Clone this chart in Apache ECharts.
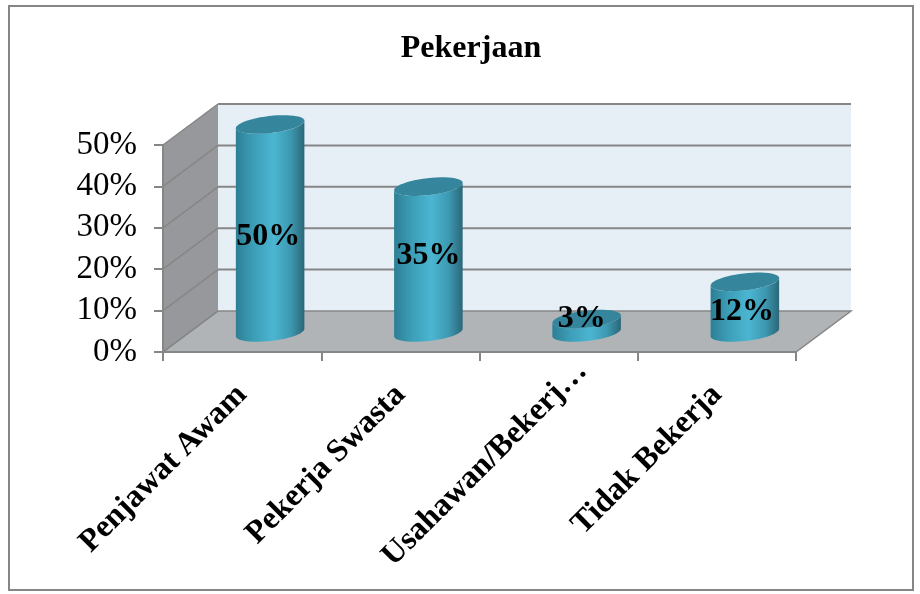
<!DOCTYPE html>
<html>
<head>
<meta charset="utf-8">
<style>html,body{margin:0;padding:0;background:#fff}#c{width:920px;height:594px}</style>
<script src="https://cdn.jsdelivr.net/npm/echarts@6/dist/echarts.min.js"></script>
</head>
<body>
<div id="c"></div>
<script>
const titleText = 'Pekerjaan';
const categories = ['Penjawat Awam', 'Pekerja Swasta', 'Usahawan/Bekerj…', 'Tidak Bekerja'];
const values = [50, 35, 3, 12];
const gridTicks = [0, 10, 20, 30, 40, 50];

const DX = 55, DY = -41, LINE = '#868686', FONT = '"Liberation Serif","Times New Roman",serif';
const labelNudge = [[-2, 8], [0, -4], [-5, -7], [-3, 5]];

function ellipsePts(cx, cy, rx, ry, phi, a0, a1, n) {
  const pts = [];
  for (let i = 0; i <= n; i++) {
    const a = a0 + (a1 - a0) * i / n;
    const ex = rx * Math.cos(a), ey = ry * Math.sin(a);
    pts.push([cx + ex * Math.cos(phi) - ey * Math.sin(phi), cy + ex * Math.sin(phi) + ey * Math.cos(phi)]);
  }
  return pts;
}

function renderWalls(params, api) {
  const o = api.coord([0, 0]);
  const band = api.size([1, 0])[0];
  const L = o[0] - band / 2, R = L + band * categories.length;
  const B = o[1], T = api.coord([0, 50])[1];
  const ch = [
    { type: 'polygon', shape: { points: [[L + DX, T + DY], [R + DX, T + DY], [R + DX, B + DY], [L + DX, B + DY]] }, style: { fill: '#e7eff6' } },
    { type: 'polygon', shape: { points: [[L, T], [L + DX, T + DY], [L + DX, B + DY], [L, B]] }, style: { fill: '#97989b' } },
    { type: 'polygon', shape: { points: [[L, B], [L + DX, B + DY], [R + DX, B + DY], [R, B]] }, style: { fill: '#b1b4b6', stroke: LINE, lineWidth: 1.5 } }
  ];
  gridTicks.forEach(t => {
    const y = api.coord([0, t])[1];
    if (t > 0) ch.push({ type: 'line', shape: { x1: L + DX, y1: y + DY, x2: R + DX, y2: y + DY }, style: { stroke: LINE, lineWidth: 2 } });
    ch.push({ type: 'line', shape: { x1: L, y1: y, x2: L + DX, y2: y + DY }, style: { stroke: LINE, lineWidth: 1.5 } });
  });
  return { type: 'group', children: ch };
}

function renderBar(params, api) {
  const i = api.value(0), v = api.value(1);
  const p = api.coord([i, v]), o = api.coord([i, 0]);
  const rx = api.size([1, 0])[0] * 0.218, ry = 8.5, phi = -0.115;
  const cx = o[0] + DX / 2 + 0.5, by = o[1] + DY / 2 + 1, ty = p[1] + DY / 2;
  const low = ellipsePts(cx, by, rx, ry, phi, Math.PI, 0, 28);
  const top = ellipsePts(cx, ty, rx, ry, phi, 0, Math.PI, 28);
  const n = labelNudge[i];
  return {
    type: 'group',
    children: [
      { type: 'polygon', shape: { points: low.concat(top) }, style: {
        fill: { type: 'linear', x: 0, y: 0, x2: 1, y2: 0, colorStops: [
          { offset: 0, color: '#2c7f95' }, { offset: 0.25, color: '#3c9db6' },
          { offset: 0.55, color: '#4bb6d2' }, { offset: 0.8, color: '#3d98b0' }, { offset: 1, color: '#2b6779' }
        ] }
      } },
      { type: 'polygon', shape: { points: ellipsePts(cx, ty, rx, ry, phi, 0, Math.PI * 2, 48) }, style: { fill: '#35859c' } },
      { type: 'text', style: {
        text: v + '%', x: cx + n[0], y: (by + ty) / 2 + n[1], align: 'center', verticalAlign: 'middle',
        fill: '#000', font: 'bold 32px ' + FONT
      } }
    ]
  };
}

const chart = echarts.init(document.getElementById('c'), null, { renderer: 'canvas' });
chart.setOption({
  animation: false,
  backgroundColor: '#fff',
  title: {
    text: titleText, left: 466, top: 28, textAlign: 'center',
    textStyle: { fontFamily: FONT, fontWeight: 'bold', fontSize: 32, color: '#000' }
  },
  graphic: [{
    type: 'rect', silent: true, z: -1,
    shape: { x: 9, y: 6, width: 904, height: 584 },
    style: { fill: '#fff', stroke: LINE, lineWidth: 2 }
  }],
  grid: { left: 163, right: 124, top: 145, bottom: 242 },
  xAxis: {
    type: 'category', data: categories, z: 3,
    axisLine: { lineStyle: { color: LINE, width: 2 } },
    axisTick: { show: true, alignWithLabel: false, length: 9, lineStyle: { color: LINE, width: 2 } },
    axisLabel: {
      rotate: 45, interval: 0, margin: 38, color: '#000', fontFamily: FONT, fontWeight: 'bold', fontSize: 32,
      formatter: v => v.endsWith('…') ? '{u|' + v + '}' : v,
      rich: { u: { width: 242, align: 'left', color: '#000', fontFamily: FONT, fontWeight: 'bold', fontSize: 32 } }
    }
  },
  yAxis: {
    type: 'value', min: 0, max: 50, interval: 10, z: 3,
    axisLine: { show: true, lineStyle: { color: LINE, width: 2 } },
    axisTick: { show: true, length: 9, lineStyle: { color: LINE, width: 2 } },
    splitLine: { show: false },
    axisLabel: { formatter: '{value}%', margin: 26, color: '#000', fontFamily: FONT, fontSize: 33 }
  },
  series: [
    { type: 'custom', z: 1, silent: true, clip: false, renderItem: renderWalls, data: [[0, 0]], encode: { x: 0, y: 1 } },
    { type: 'custom', z: 4, clip: false, renderItem: renderBar, data: values.map((v, i) => [i, v]), encode: { x: 0, y: 1 } }
  ]
});
</script>
</body>
</html>
